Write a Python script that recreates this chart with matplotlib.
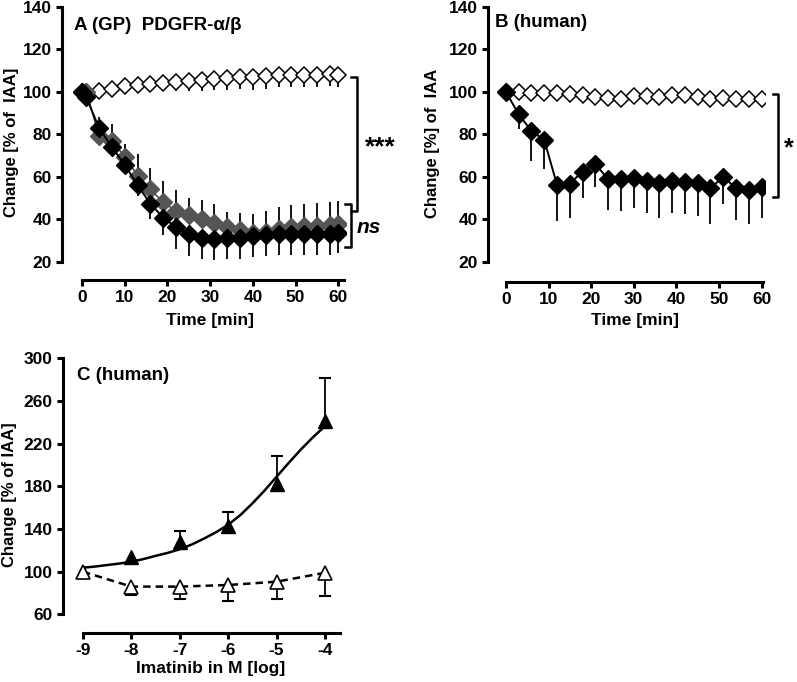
import numpy as np
import matplotlib
matplotlib.use('Agg')
import matplotlib.pyplot as plt
from matplotlib.lines import Line2D

plt.rcParams['font.family'] = ['Liberation Sans', 'DejaVu Sans']
plt.rcParams['font.weight'] = 'bold'
plt.rcParams['axes.labelweight'] = 'bold'
plt.rcParams['axes.unicode_minus'] = False

# panel A (guinea pig)
tA = [0, 1, 4, 7, 10, 13, 16, 19, 22, 25, 28, 31, 34, 37, 40, 43, 46, 49, 52, 55, 58, 60]
a_open = [100, 100, 100.5, 101.5, 102.5, 103, 103.5, 104, 104.5, 105, 105.5, 106,
          106.5, 107, 107, 107.5, 108, 108, 108, 108, 108.5, 108]
a_open_err = [0, 0.5, 1, 1.5, 2, 2.5, 3, 3.5, 4, 4.5, 5, 5, 5.5, 5.5, 6, 6, 6, 6, 6, 6, 6, 6]
a_gray = [100, 100, 79, 76.7, 69.4, 60.5, 54, 48, 43.8, 42, 40, 38.4, 36.5, 34.9,
          33.5, 34, 35.6, 36.5, 37, 37, 37.5, 37.8]
a_gray_err = [0, 1, 9, 8, 6, 10, 10, 10, 10, 8, 9, 8.6, 7, 8, 9, 10, 10, 10, 10, 10.5, 10.5, 11]
a_black = [100, 97.3, 82.9, 73.9, 65.6, 56, 47.3, 40.7, 36.2, 33, 31.1, 30.7, 31.1, 31.1,
           32.2, 32.7, 33.2, 33.2, 33, 33, 33, 33.6]
a_black_err = [0, 1, 2, 3, 4, 5, 7, 8, 10, 10.5, 10, 10, 10, 10, 10, 10, 10, 10, 10, 10, 10, 9.5]

# panel B (human)
tB = [0, 3, 6, 9, 12, 15, 18, 21, 24, 27, 30, 33, 36, 39, 42, 45, 48, 51, 54, 57, 60]
b_open = [100, 100, 99.4, 99.4, 99.4, 99, 98.6, 97.5, 97, 96.4, 98.1, 98, 97.5, 98.6,
          98.3, 97.5, 96.7, 97, 96.7, 96.4, 96.4]
b_black = [100, 89.3, 81.5, 77.3, 56.1, 56.7, 62.4, 66, 58.7, 58.7, 59.2, 58, 57.2, 58,
           57.6, 56.9, 54.5, 60, 54.5, 53.7, 55.3]
b_black_err = [0, 7, 14, 13.7, 17, 16, 12.6, 10.7, 14.5, 15, 14, 15, 16.5, 15, 15, 15.3,
               16.8, 13, 15, 16, 14.6]

# panel C (human, imatinib)
c_dose = [-9, -8, -7, -6, -5, -4]
c_open = [100, 86, 86, 87.5, 90.6, 99]
c_open_err = [0, 8, 12, 15, 16.6, 21.5]
c_fill_dose = [-8, -7, -6, -5, -4]
c_fill = [114, 128, 143, 182, 241.6]
c_fill_err = [0, 10, 13, 26, 40]
c_fit_x = [-9, -8.75, -8.5, -8.25, -8, -7.75, -7.5, -7.25, -7, -6.75, -6.5, -6.25, -6,
           -5.75, -5.5, -5.25, -5, -4.75, -4.5, -4.25, -4]
c_fit_y = [103.7, 104.8, 106.2, 107.6, 109.3, 111.8, 114.8, 117.6, 121, 125.5, 131, 137,
           144, 153, 164, 176, 189, 202, 214.5, 226, 236.5]

W, H = 797, 682
fig = plt.figure(figsize=(W / 100, H / 100), dpi=100)


def add_ax(x0, y0, x1, y1):
    return fig.add_axes([x0 / W, 1 - y1 / H, (x1 - x0) / W, (y1 - y0) / H])


def style(ax, xb, yb):
    for s in ['top', 'right']:
        ax.spines[s].set_visible(False)
    ax.spines['left'].set_linewidth(2.2)
    ax.spines['bottom'].set_linewidth(2.2)
    ax.spines['left'].set_bounds(*yb)
    ax.spines['bottom'].set_bounds(*xb)
    ax.tick_params(direction='out', length=4, width=2.2, labelsize=12.5)


def bracket(ax, x, xt, y0, y1):
    ax.add_line(Line2D([xt, x, x, xt], [y0, y0, y1, y1], color='black', lw=1.8,
                       clip_on=False))


def one_side_err(ax, x, y, err, up, cap=0):
    x = np.asarray(x, float)
    y = np.asarray(y, float)
    err = np.asarray(err, float)
    end = y + err if up else y - err
    keep = err > 0
    ax.vlines(x[keep], y[keep], end[keep], color='black', lw=1.3, zorder=2)
    if cap:
        ax.plot(x[keep], end[keep], ls='none', marker='_', ms=cap, mew=1.5,
                color='black', zorder=2)


# ---- A
ax = add_ax(62, 5, 346, 280)
one_side_err(ax, tA, a_open, a_open_err, up=False)
one_side_err(ax, tA, a_gray, a_gray_err, up=True)
one_side_err(ax, tA, a_black, a_black_err, up=False)
ax.plot(tA, a_open, '-', color='black', lw=1.0, marker='D', ms=8.5, mfc='white',
        mec='black', mew=1.1, zorder=3)
ax.plot(tA, a_gray, '-', color='#333333', lw=1.0, marker='D', ms=9.5, mfc='#555555',
        mec='#555555', zorder=4)
ax.plot(tA, a_black, '-', color='black', lw=1.4, marker='D', ms=9.5, mfc='black',
        mec='black', zorder=5)
ax.set_xlim(-4.7, 61.8)
ax.set_ylim(11.4, 140.8)
ax.set_xticks([0, 10, 20, 30, 40, 50, 60])
ax.set_yticks([20, 40, 60, 80, 100, 120, 140])
style(ax, (0, 61.4), (20, 140))
ax.set_xlabel('Time [min]', fontsize=12.5)
ax.set_ylabel('Change [% of  IAA]', fontsize=12)
ax.xaxis.set_label_coords(0.521, -0.12)
ax.yaxis.set_label_coords(-0.151, 0.5)
ax.text(0.042, 0.909, 'A (GP)  PDGFR-α/β', transform=ax.transAxes, fontsize=13.5,
        va='baseline')
bracket(ax, 64.4, 63.0, 107, 44)
bracket(ax, 63.0, 61.6, 47, 27.1)
ax.text(69.8, 74, '***', fontsize=19, ha='center', va='center')
ax.text(64.2, 36, 'ns', fontsize=15, style='italic', ha='left', va='center')

# ---- B
ax = add_ax(488, 5, 765, 282)
one_side_err(ax, tB, b_black, b_black_err, up=False)
ax.plot(tB, b_open, '-', color='black', lw=1.0, marker='D', ms=8.5, mfc='white',
        mec='black', mew=1.1, zorder=3)
ax.plot(tB, b_black, '-', color='black', lw=1.4, marker='D', ms=9.5, mfc='black',
        mec='black', zorder=5)
ax.set_xlim(-4.2, 60.8)
ax.set_ylim(10.4, 140.8)
ax.set_xticks([0, 10, 20, 30, 40, 50, 60])
ax.set_yticks([20, 40, 60, 80, 100, 120, 140])
style(ax, (0, 60.3), (20, 140))
ax.set_xlabel('Time [min]', fontsize=12.5)
ax.set_ylabel('Change [%] of  IAA', fontsize=12)
ax.xaxis.set_label_coords(0.529, -0.112)
ax.yaxis.set_label_coords(-0.173, 0.5)
ax.text(0.025, 0.92, 'B (human)', transform=ax.transAxes, fontsize=13.5, va='baseline')
bracket(ax, 63.8, 62.7, 98.9, 50.4)
ax.text(66.3, 73.5, '*', fontsize=18, ha='center', va='center')

# ---- C
ax = add_ax(63, 356, 342, 633)
one_side_err(ax, c_fill_dose, c_fill, c_fill_err, up=True, cap=9)
one_side_err(ax, c_dose, c_open, c_open_err, up=False, cap=9)
ax.plot(c_fit_x, c_fit_y, '-', color='black', lw=1.8, zorder=3)
ax.plot(c_dose, c_open, '--', color='black', lw=1.8, dashes=(3, 2), zorder=3)
ax.plot(c_fill_dose, c_fill, 'none', marker='^', ms=10, mfc='black', mec='black', zorder=4)
ax.plot(c_dose, c_open, 'none', marker='^', ms=10, mfc='white', mec='black', mew=1.2,
        zorder=5)
ax.set_xlim(-9.41, -3.65)
ax.set_ylim(42.5, 302.2)
ax.set_xticks(c_dose)
ax.set_yticks([60, 100, 140, 180, 220, 260, 300])
style(ax, (-9, -3.69), (60, 300))
ax.set_xlabel('Imatinib in M [log]', fontsize=12.5)
ax.set_ylabel('Change [% of IAA]', fontsize=12)
ax.xaxis.set_label_coords(0.530, -0.101)
ax.yaxis.set_label_coords(-0.165, 0.5)
ax.text(0.05, 0.913, 'C (human)', transform=ax.transAxes, fontsize=13.5, va='baseline')

plt.savefig('out.png', dpi=100)
